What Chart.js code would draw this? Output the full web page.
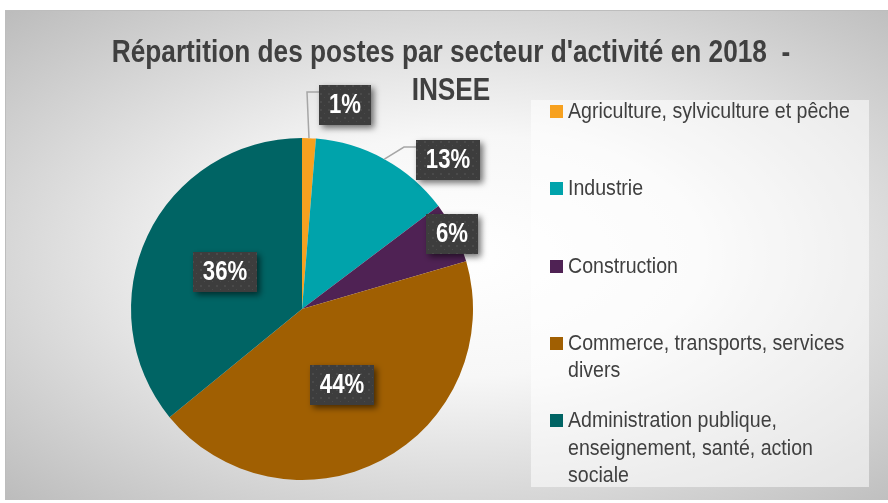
<!DOCTYPE html>
<html lang="fr">
<head>
<meta charset="utf-8">
<script src="https://cdn.jsdelivr.net/npm/chart.js@4.4.1/dist/chart.umd.min.js"></script>
<style>
  body { margin: 0; background: #fff; width: 888px; height: 503px; overflow: hidden; }
  #frame {
    position: absolute; left: 5px; top: 10px; width: 883px; height: 489px;
    border-top: 1px solid #bdbdbd; border-left: 1px solid #bdbdbd;
    background: radial-gradient(ellipse farthest-corner at 52% 50%, #ffffff 0%, #f7f7f7 35%, #bcbcbc 100%);
  }
  #pie { position: absolute; left: 0; top: 0; }
  /* no narrow face installed: squeeze Liberation Sans to look like Arial Narrow */
  #title {
    position: absolute; left: 0; top: 21px; width: 890px; text-align: center;
    font: bold 32px "Liberation Sans", Arial, sans-serif;
    color: #404040; line-height: 38px;
    transform: scaleX(0.82); transform-origin: 50% 0;
  }
  #legend {
    position: absolute; left: 525px; top: 89px; width: 338px; height: 387px;
    background: rgba(255,255,255,0.55); margin: 0; padding: 0; list-style: none;
  }
  #legend li { position: relative; height: 77.3px; }
  #legend span.box { position: absolute; left: 19px; top: 5px; width: 13px; height: 13px; }
  #legend span.txt {
    position: absolute; left: 37px; top: -3px; width: 328px;
    font: 22px "Liberation Sans", Arial, sans-serif; color: #404040; line-height: 27.5px;
    transform: scaleX(0.89); transform-origin: 0 0;
  }
</style>
</head>
<body>
<div id="frame">
  <canvas id="pie" width="883" height="489"></canvas>
  <div id="title">Répartition des postes par secteur d'activité en 2018 &nbsp;-<br>INSEE</div>
  <ul id="legend"></ul>
</div>
<script>
const sectors = [
  'Agriculture, sylviculture et pêche',
  'Industrie',
  'Construction',
  'Commerce, transports, services divers',
  'Administration publique, enseignement, santé, action sociale'
];
const shares = [1.3, 13.4, 5.8, 43.6, 35.9];
const colors = ['#f7a11f', '#00a3ab', '#4f2254', '#a05f02', '#006464'];

// label placement: distance from centre (x radius) and angular nudge (deg)
const labelDist = [1.22, 1.22, 0.98, 0.5, 0.5];
const labelShift = [9.5, 15.5, 0, 0, 0];
const hasLeader = [true, true, false, false, false];

const labelFont = 'bold 27px "Liberation Sans", Arial, sans-serif';
const squeeze = 0.82;

function dotPattern(ctx) {
  const c = document.createElement('canvas');
  c.width = 8; c.height = 8;
  const p = c.getContext('2d');
  p.fillStyle = '#3d3d3d';
  p.fillRect(0, 0, 8, 8);
  p.fillStyle = '#4a4a4a';
  p.fillRect(2, 2, 2, 2);
  p.fillRect(6, 6, 1, 1);
  return ctx.createPattern(c, 'repeat');
}

const sliceLabels = {
  id: 'sliceLabels',
  afterDatasetsDraw(chart) {
    const ctx = chart.ctx;
    const meta = chart.getDatasetMeta(0);
    const total = shares.reduce((a, b) => a + b, 0);
    const pat = dotPattern(ctx);
    meta.data.forEach((arc, i) => {
      const p = arc.getProps(['x', 'y', 'startAngle', 'endAngle', 'outerRadius'], true);
      const mid = (p.startAngle + p.endAngle) / 2;
      const a = mid + labelShift[i] * Math.PI / 180;
      const cx = p.x + Math.cos(a) * p.outerRadius * labelDist[i];
      const cy = p.y + Math.sin(a) * p.outerRadius * labelDist[i];
      const text = Math.round(shares[i] / total * 100) + '%';
      ctx.save();
      ctx.font = labelFont;
      const w = Math.round(ctx.measureText(text).width * squeeze + 20), h = 40;
      const bx = Math.round(cx - w / 2), by = Math.round(cy - h / 2);
      if (hasLeader[i]) {
        const ex = p.x + Math.cos(mid) * p.outerRadius;
        const ey = p.y + Math.sin(mid) * p.outerRadius;
        ctx.strokeStyle = '#a6a6a6';
        ctx.lineWidth = 1.5;
        ctx.beginPath();
        ctx.moveTo(ex, ey);
        ctx.lineTo(bx - 12, by + 7);
        ctx.lineTo(bx, by + 7);
        ctx.stroke();
      }
      ctx.shadowColor = 'rgba(0,0,0,0.55)';
      ctx.shadowBlur = 6;
      ctx.shadowOffsetX = 3;
      ctx.shadowOffsetY = 3;
      ctx.fillStyle = pat;
      ctx.fillRect(bx, by, w, h);
      ctx.shadowColor = 'transparent';
      ctx.fillStyle = '#ffffff';
      ctx.textAlign = 'center';
      ctx.textBaseline = 'middle';
      ctx.translate(bx + w / 2, by + h / 2 + 1);
      ctx.scale(squeeze, 1);
      ctx.fillText(text, 0, 0);
      ctx.restore();
    });
  }
};

const chart = new Chart(document.getElementById('pie').getContext('2d'), {
  type: 'pie',
  data: {
    labels: sectors,
    datasets: [{
      data: shares,
      backgroundColor: colors,
      borderWidth: 0
    }]
  },
  options: {
    responsive: false,
    animation: false,
    layout: { padding: { left: 125, top: 127, right: 416, bottom: 20 } },
    plugins: {
      legend: { display: false },
      title: { display: false },
      tooltip: { enabled: false }
    }
  },
  plugins: [sliceLabels]
});

// legend built from chart data
const legendHtml = [];
chart.data.labels.forEach((lab, i) => {
  legendHtml.push(`<li><span class="box" style="background:${colors[i]}"></span><span class="txt">${lab}</span></li>`);
});
document.getElementById('legend').innerHTML = legendHtml.join('');
</script>
</body>
</html>
